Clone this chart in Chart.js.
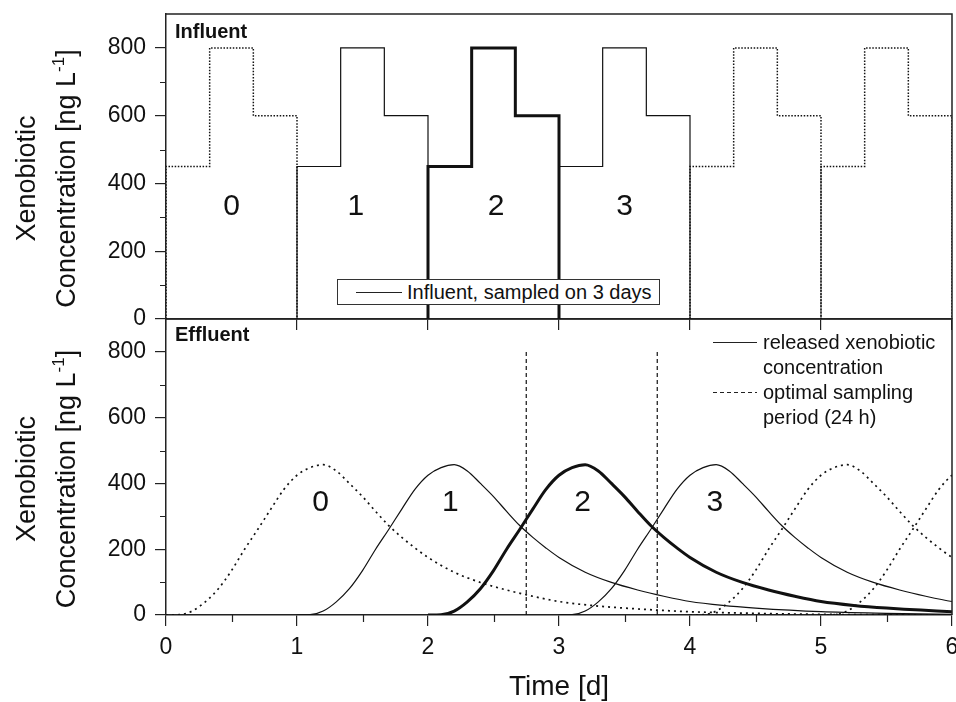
<!DOCTYPE html>
<html>
<head>
    <title>Influent / Effluent xenobiotic concentration</title>
    <script src="https://cdn.jsdelivr.net/npm/chart.js"></script>
    <style>
        body {
            background: #ffffff;
            margin: 0;
            font-family: 'Liberation Sans', Arial, sans-serif;
            color: #111;
        }
        #wrap {
            position: relative;
            width: 956px;
            height: 702px;
            overflow: hidden;
        }
        canvas {
            position: absolute;
            left: 0;
        }
        .panel-label {
            position: absolute;
            left: 175px;
            font-size: 20px;
            font-weight: bold;
            line-height: 20px;
        }
        .legend-box {
            position: absolute;
            left: 337px;
            top: 279px;
            width: 321px;
            height: 24px;
            border: 1px solid #333;
            background: #fff;
            display: flex;
            align-items: center;
            font-size: 20px;
            white-space: nowrap;
        }
        .legend-box .sample {
            width: 46px;
            margin-left: 18px;
            margin-right: 5px;
            height: 1px;
            background: #222;
        }
        .eff-legend {
            position: absolute;
            left: 713px;
            top: 330px;
            font-size: 20px;
            line-height: 25px;
        }
        .eff-legend .item {
            display: flex;
            align-items: flex-start;
        }
        .eff-legend .sample {
            width: 44px;
            height: 1px;
            margin-top: 12px;
            margin-right: 6px;
            background: #222;
        }
        .eff-legend .sample.dashed {
            background: repeating-linear-gradient(90deg, #222 0 4px, transparent 4px 7px);
        }
    </style>
</head>
<body>
<div id="wrap">
    <canvas id="effluentChart" width="956" height="402" style="top:300px"></canvas>
    <canvas id="influentChart" width="956" height="340" style="top:0px"></canvas>
    <div class="panel-label" style="top:21px">Influent</div>
    <div class="panel-label" style="top:324px">Effluent</div>
    <div class="legend-box"><span class="sample"></span><span>Influent, sampled on 3 days</span></div>
    <div class="eff-legend">
        <div class="item"><span class="sample"></span><span>released xenobiotic<br>concentration</span></div>
        <div class="item"><span class="sample dashed"></span><span>optimal sampling<br>period (24 h)</span></div>
    </div>
</div>

<script>
    // ---- data ----
    const days = [0, 1, 2, 3, 4, 5];
    const dayStyle = ['dotted', 'thin', 'thick', 'thin', 'dotted', 'dotted'];

    // influent: one day of the step pattern (time offset in d, ng/L)
    const stepOffset = [0, 0, 1 / 3, 1 / 3, 2 / 3, 2 / 3, 1, 1];
    const stepConc = [0, 450, 450, 800, 800, 600, 600, 0];

    // effluent: released concentration after one influent day (offset in d, ng/L)
    const releaseOffset = [0, 0.1, 0.2, 0.3, 0.4, 0.5, 0.6, 0.7, 0.8, 0.9, 1.0, 1.1, 1.2, 1.3, 1.4, 1.5,
        1.6, 1.7, 1.8, 1.9, 2.0, 2.2, 2.4, 2.6, 2.8, 3.0, 3.25, 3.5, 4.0, 4.5, 5.0, 6.0];
    const releaseConc = [0, 1, 12, 40, 80, 135, 200, 260, 322, 382, 425, 448, 457, 438, 400, 360,
        315, 272, 236, 204, 175, 130, 99, 76, 57, 41, 29, 21, 10, 5, 2, 0.5];

    // optimal 24 h sampling period
    const samplingBounds = [2.75, 3.75];
    const samplingTop = 800;

    const xTicks = [0, 1, 2, 3, 4, 5, 6];
    const xMinorTicks = [0.5, 1.5, 2.5, 3.5, 4.5, 5.5];
    const yTicks = [0, 200, 400, 600, 800];
    const yMinorTicks = [100, 300, 500, 700];

    const dayLabels = ['0', '1', '2', '3'];
    const influentLabelX = [0.5, 1.45, 2.52, 3.5];
    const influentLabelY = 330;
    const effluentLabelX = [1.18, 2.17, 3.18, 4.19];
    const effluentLabelY = 340;

    // ---- styling ----
    const FONT = "'Liberation Sans', Arial, sans-serif";
    const axisColor = '#222';
    const textColor = '#111';
    Chart.defaults.font.family = FONT;
    Chart.defaults.color = textColor;

    const styles = {
        thin: { borderWidth: 1.2, borderDash: [], order: 1 },
        thick: { borderWidth: 3, borderDash: [], order: 0 },
        dotted: { borderWidth: 1.5, borderDash: [1.5, 1.6], order: 2 }
    };
    const effluentDots = [2, 4];

    function shiftDay(offsets, values, d) {
        return offsets.map((o, i) => ({ x: d + o, y: values[i] }));
    }

    const influentSets = days.map((d, i) => {
        const s = styles[dayStyle[i]];
        return {
            data: shiftDay(stepOffset, stepConc, d),
            borderColor: textColor,
            borderWidth: s.borderWidth,
            borderDash: s.borderDash,
            order: s.order,
            pointRadius: 0,
            tension: 0
        };
    });

    const effluentSets = days.map((d, i) => {
        const s = styles[dayStyle[i]];
        const dotted = dayStyle[i] === 'dotted';
        return {
            data: shiftDay(releaseOffset, releaseConc, d),
            borderColor: textColor,
            borderWidth: dotted ? 1.7 : s.borderWidth,
            borderDash: dotted ? effluentDots : s.borderDash,
            order: s.order,
            pointRadius: 0,
            cubicInterpolationMode: 'monotone'
        };
    });
    samplingBounds.forEach(t => {
        effluentSets.push({
            data: [{ x: t, y: 0 }, { x: t, y: samplingTop }],
            borderColor: textColor,
            borderWidth: 1.2,
            borderDash: [4, 3],
            order: 3,
            pointRadius: 0
        });
    });

    // frame, minor ticks, day numbers and the y title
    const panelDecor = {
        id: 'panelDecor',
        afterDraw(chart, args, opts) {
            const { ctx, chartArea: a, scales: { x, y } } = chart;
            ctx.save();
            ctx.strokeStyle = axisColor;
            ctx.lineWidth = 1.5;
            ctx.beginPath();
            ctx.moveTo(a.left, a.top);
            ctx.lineTo(a.right, a.top);
            ctx.lineTo(a.right, a.bottom);
            ctx.stroke();

            ctx.lineWidth = 1.2;
            ctx.beginPath();
            (opts.xMinor || []).forEach(v => {
                const px = Math.round(x.getPixelForValue(v)) + 0.5;
                ctx.moveTo(px, a.bottom);
                ctx.lineTo(px, a.bottom + 7);
            });
            (opts.yMinor || []).forEach(v => {
                const py = Math.round(y.getPixelForValue(v)) + 0.5;
                ctx.moveTo(a.left - 6, py);
                ctx.lineTo(a.left, py);
            });
            ctx.stroke();

            ctx.fillStyle = textColor;
            ctx.font = '30px ' + FONT;
            ctx.textAlign = 'center';
            ctx.textBaseline = 'middle';
            opts.labelX.forEach((v, i) => {
                ctx.fillText(dayLabels[i], x.getPixelForValue(v), y.getPixelForValue(opts.labelY));
            });

            // y axis title, two lines, with superscript
            const cy = (a.top + a.bottom) / 2 + 12;
            ctx.textAlign = 'left';
            ctx.textBaseline = 'alphabetic';
            ctx.save();
            ctx.translate(35, cy);
            ctx.rotate(-Math.PI / 2);
            ctx.font = '27px ' + FONT;
            const w0 = ctx.measureText('Xenobiotic').width;
            ctx.fillText('Xenobiotic', -w0 / 2, 0);
            ctx.restore();

            ctx.save();
            ctx.translate(74.5, cy);
            ctx.rotate(-Math.PI / 2);
            const main = 'Concentration [ng L', sup = '-1', end = ']';
            ctx.font = '27px ' + FONT;
            const w1 = ctx.measureText(main).width;
            const w3 = ctx.measureText(end).width;
            ctx.font = '17px ' + FONT;
            const w2 = ctx.measureText(sup).width;
            let x0 = -(w1 + w2 + w3) / 2;
            ctx.font = '27px ' + FONT;
            ctx.fillText(main, x0, 0);
            ctx.font = '17px ' + FONT;
            ctx.fillText(sup, x0 + w1, -11);
            ctx.font = '27px ' + FONT;
            ctx.fillText(end, x0 + w1 + w2, 0);
            ctx.restore();
            ctx.restore();
        }
    };

    function yScale() {
        return {
            type: 'linear',
            min: 0,
            max: 900,
            afterBuildTicks: s => { s.ticks = yTicks.map(v => ({ value: v })); },
            afterFit: s => { s.width = 166; s.paddingTop = 0; s.paddingBottom = 0; },
            grid: { drawOnChartArea: false, drawTicks: true, tickLength: 11, color: axisColor, lineWidth: 1.2 },
            border: { color: axisColor, width: 1.5 },
            ticks: { color: textColor, padding: 9, font: { size: 23 } }
        };
    }

    const baseOptions = {
        responsive: false,
        animation: false,
        events: [],
        plugins: { legend: { display: false }, tooltip: { enabled: false } }
    };

    new Chart(document.getElementById('influentChart'), {
        type: 'line',
        data: { datasets: influentSets },
        options: {
            ...baseOptions,
            layout: { padding: { top: 14, right: 4, left: 0, bottom: 0 } },
            plugins: {
                ...baseOptions.plugins,
                panelDecor: { yMinor: yMinorTicks, labelX: influentLabelX, labelY: influentLabelY }
            },
            scales: {
                x: {
                    type: 'linear',
                    min: 0,
                    max: 6,
                    afterBuildTicks: s => { s.ticks = xTicks.map(v => ({ value: v })); },
                    afterFit: s => { s.height = 21; s.paddingLeft = 0; s.paddingRight = 0; },
                    grid: { drawOnChartArea: false, drawTicks: true, tickLength: 11, color: axisColor, lineWidth: 1.2 },
                    border: { color: axisColor, width: 1.5 },
                    ticks: { display: false }
                },
                y: yScale()
            }
        },
        plugins: [panelDecor]
    });

    new Chart(document.getElementById('effluentChart'), {
        type: 'line',
        data: { datasets: effluentSets },
        options: {
            ...baseOptions,
            layout: { padding: { top: 19, right: 4, left: 0, bottom: 0 } },
            plugins: {
                ...baseOptions.plugins,
                panelDecor: { xMinor: xMinorTicks, yMinor: yMinorTicks, labelX: effluentLabelX, labelY: effluentLabelY }
            },
            scales: {
                x: {
                    type: 'linear',
                    min: 0,
                    max: 6,
                    afterBuildTicks: s => { s.ticks = xTicks.map(v => ({ value: v })); },
                    afterFit: s => { s.height = 87; s.paddingLeft = 0; s.paddingRight = 0; },
                    grid: { drawOnChartArea: false, drawTicks: true, tickLength: 11, color: axisColor, lineWidth: 1.2 },
                    border: { color: axisColor, width: 1.5 },
                    ticks: { color: textColor, padding: 8, font: { size: 23 }, maxRotation: 0 },
                    title: {
                        display: true,
                        text: 'Time [d]',
                        color: textColor,
                        font: { size: 28 },
                        padding: { top: 0, bottom: -2 }
                    }
                },
                y: yScale()
            }
        },
        plugins: [panelDecor]
    });
</script>
</body>
</html>
